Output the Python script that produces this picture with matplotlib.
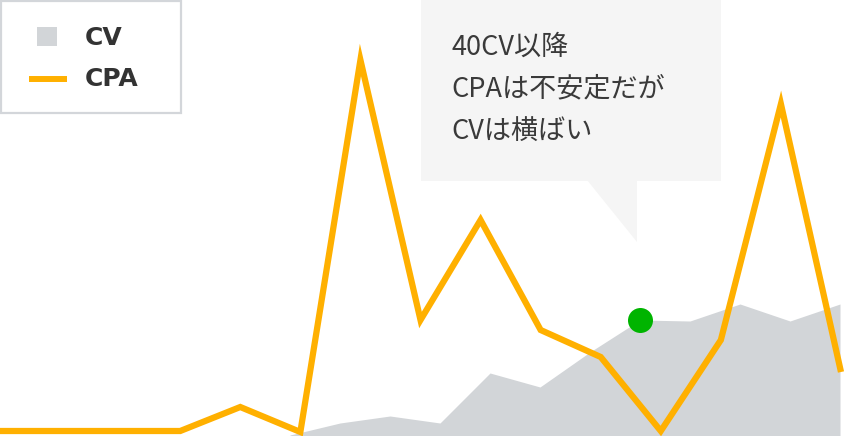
import matplotlib
matplotlib.use("Agg")
import matplotlib.pyplot as plt
from matplotlib.patches import Rectangle, Polygon

# ---- data ----
cpa_index = list(range(15))
cpa_values = [5, 5, 5, 5, 29, 4, 376, 116, 216, 106, 79, 5, 96, 332, 64]

cv_index = list(range(12))
cv_values = [1, 13, 20, 13, 63, 49, 84, 116, 115, 132, 115, 132]

highlight_cv_index = 7

legend_labels = ["CV", "CPA"]
callout_lines = ["40CV以降", "CPAは不安定だが", "CVは横ばい"]

ORANGE = "#FFB000"
GRAY = "#D2D5D8"
GREEN = "#00B400"
TEXT = "#333333"

W, H = 844, 436
fig = plt.figure(figsize=(W / 100, H / 100), dpi=100)
fig.patch.set_facecolor("white")

# CV area axes
ax_cv = fig.add_axes([0, 0, 1, 1])
ax_cv.fill_between(cv_index, cv_values, 0, color=GRAY, linewidth=0, zorder=1)
ax_cv.plot([highlight_cv_index], [cv_values[highlight_cv_index]], "o",
           color=GREEN, markersize=18, markeredgewidth=0, zorder=5)
ax_cv.set_xlim(-5.8, 11.08)
ax_cv.set_ylim(0, H)
ax_cv.axis("off")

# CPA line axes
ax = fig.add_axes([0, 0, 1, 1])
ax.patch.set_alpha(0)
ax.plot(cpa_index, cpa_values, color=ORANGE, linewidth=4.5,
        solid_joinstyle="miter", solid_capstyle="butt", zorder=3)
ax.set_xlim(0, 14.05)
ax.set_ylim(0, H)
ax.axis("off")

# overlay for legend & callout (pixel layout)
ov = fig.add_axes([0, 0, 1, 1])
ov.patch.set_alpha(0)
ov.set_xlim(0, W)
ov.set_ylim(H, 0)
ov.axis("off")

# legend box
ov.add_patch(Rectangle((1, 1), 180, 112, facecolor="white", edgecolor="#D3D6DA",
                       linewidth=1.6, zorder=10))
ov.add_patch(Rectangle((37, 27), 20, 19, facecolor=GRAY, edgecolor="none", zorder=11))
ov.plot([29, 67], [79.5, 79.5], color=ORANGE, linewidth=4.3, solid_capstyle="butt", zorder=11)
for lbl, y in zip(legend_labels, [38, 79]):
    ov.text(85, y, lbl, fontsize=18, fontweight="bold", color=TEXT,
            family=["DejaVu Sans"], va="center", ha="left", zorder=12)

# callout bubble
ov.add_patch(Rectangle((421, 0), 300, 181, facecolor="#F5F5F5", edgecolor="none", zorder=8))
ov.add_patch(Polygon([(587, 180), (637, 180), (637, 242)], closed=True,
                     facecolor="#F5F5F5", edgecolor="none", zorder=8))
for line, y in zip(callout_lines, [47, 89, 131]):
    ov.text(451, y, line, fontsize=19.5, color="#3a3a3a",
            family=["Noto Sans CJK JP", "DejaVu Sans"], va="center", ha="left", zorder=9)

fig.savefig("out.png", dpi=100)
